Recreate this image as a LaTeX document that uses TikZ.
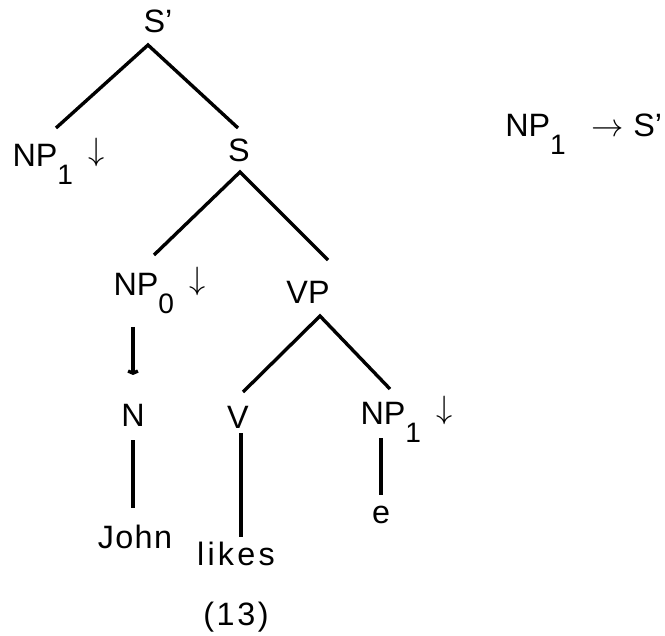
\RequirePackage{fix-cm}
\documentclass[tikz,border=0pt]{standalone}
\usepackage{fontspec}
\setmainfont{Liberation Sans}
\usepackage{tikz}
\usetikzlibrary{calc,arrows.meta}

% lowered index and the substitution arrow
\newcommand{\lowsub}[1]{\raisebox{-12.8pt}{\fontsize{20}{24}\selectfont #1}}
\newcommand{\subdown}[1]{\rlap{\lowsub{#1}\hspace{11pt}\raisebox{4.3pt}{$\downarrow$}}}

\begin{document}
\begin{tikzpicture}[x=0.025cm, y=-0.025cm,
    every node/.style={inner sep=0pt, anchor=base, font=\fontsize{23}{28}\selectfont},
    branch/.style={line width=2.4pt},
    spaced/.style={font=\fontsize{23}{28}\selectfont\addfontfeature{LetterSpace=#1}},
    spaced/.default=8]
    \useasboundingbox (0,0) rectangle (665,636);

    % Top of the tree
    \node (sp) at (158,33) {S'};
    \node (npa) at (35,167) {NP\subdown{1}};
    \node (s) at (239,162) {S};
    \draw[branch] ($(npa.base)+(21,-39)$) -- ($(sp.base)+(-10,12)$) -- ($(s.base)+(-1,-34)$);

    % Subject and verb phrase
    \node (npb) at (136,296) {NP\subdown{0}};
    \node (vp) at (308,304) {VP};
    \draw[branch] ($(npb.base)+(18,-41)$) -- ($(s.base)+(1,10)$) -- ($(vp.base)+(20,-44)$);

    % Subject
    \node (n) at (133,427) {N};
    \node[spaced=4] (john) at (135,548) {John};
    \draw[branch, -{Straight Barb[length=1.5pt,width=7pt]}] ($(npb.base)+(-3,31)$) -- ($(n.base)+(0,-52)$);
    \draw[branch] ($(n.base)+(0,13)$) -- ($(john.base)+(-2,-40)$);

    % Verb and object
    \node (v) at (238,428) {V};
    \node (npc) at (383,425) {NP\subdown{1}};
    \draw[branch] ($(v.base)+(5,-36)$) -- ($(vp.base)+(12,12)$) -- ($(npc.base)+(7,-36)$);
    \node[spaced=10] (likes) at (236,565) {likes};
    \node (e) at (381,523) {e};
    \draw[branch] ($(v.base)+(3,5)$) -- ($(likes.base)+(5,-28)$);
    \draw[branch] ($(npc.base)+(-2,13)$) -- ($(e.base)+(0,-28)$);

    \node[spaced] (num) at (236,625) {(13)};

    % Rule on the right
    \node[anchor=base west] (rule) at (505,137) {NP\lowsub{1}\hspace{18pt}$\rightarrow$\hspace{7pt}S'};
\end{tikzpicture}
\end{document}
